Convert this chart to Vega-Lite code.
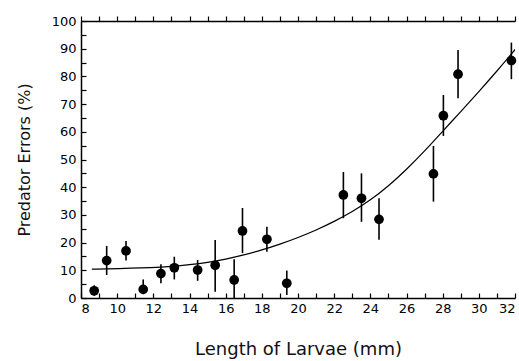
{
  "$schema": "https://vega.github.io/schema/vega-lite/v6.json",
  "width": 434,
  "height": 277,
  "autosize": {"type": "none"},
  "padding": {"left": 81, "top": 21, "right": 4, "bottom": 63},
  "background": "white",
  "config": {
    "view": {"stroke": null},
    "axis": {"labelFont": "DejaVu Sans", "titleFont": "DejaVu Sans", "labelColor": "black", "titleColor": "#111", "domainColor": "black", "tickColor": "black", "grid": false, "titleFontWeight": "normal", "labelOverlap": false}
  },
  "datasets": {
    "pts": [
      {"len": 8.73, "err": 2.6, "lo": 0.8, "hi": 4.6},
      {"len": 9.42, "err": 13.5, "lo": 8.3, "hi": 18.8},
      {"len": 10.49, "err": 17.0, "lo": 13.5, "hi": 20.6},
      {"len": 11.44, "err": 3.1, "lo": 1.4, "hi": 6.7},
      {"len": 12.42, "err": 8.8, "lo": 5.3, "hi": 12.2},
      {"len": 13.16, "err": 10.9, "lo": 6.7, "hi": 14.9},
      {"len": 14.45, "err": 10.1, "lo": 6.2, "hi": 13.7},
      {"len": 15.42, "err": 11.8, "lo": 2.3, "hi": 20.9},
      {"len": 16.47, "err": 6.5, "lo": 0, "hi": 14.0},
      {"len": 16.93, "err": 24.2, "lo": 16.2, "hi": 32.5},
      {"len": 18.28, "err": 21.2, "lo": 16.7, "hi": 25.7},
      {"len": 19.38, "err": 5.3, "lo": 1.1, "hi": 9.9},
      {"len": 22.51, "err": 37.2, "lo": 28.8, "hi": 45.5},
      {"len": 23.51, "err": 36.0, "lo": 27.5, "hi": 45.0},
      {"len": 24.48, "err": 28.4, "lo": 21.0, "hi": 36.0},
      {"len": 27.49, "err": 44.8, "lo": 34.8, "hi": 54.9},
      {"len": 28.04, "err": 65.8, "lo": 58.5, "hi": 73.3},
      {"len": 28.85, "err": 80.8, "lo": 72.1, "hi": 89.5},
      {"len": 31.8, "err": 85.7, "lo": 79.0, "hi": 92.2}
    ],
    "curve": [
      {"len": 8.6, "fit": 10.4},
      {"len": 10, "fit": 10.6},
      {"len": 12, "fit": 11.0},
      {"len": 13, "fit": 11.4},
      {"len": 14, "fit": 12.0},
      {"len": 15, "fit": 12.8},
      {"len": 16, "fit": 14.0},
      {"len": 17, "fit": 15.5},
      {"len": 18, "fit": 17.3},
      {"len": 19, "fit": 19.4},
      {"len": 20, "fit": 21.8},
      {"len": 21, "fit": 24.5},
      {"len": 22, "fit": 27.6},
      {"len": 23, "fit": 31.1},
      {"len": 24, "fit": 35.3},
      {"len": 25, "fit": 40.4},
      {"len": 26, "fit": 46.4},
      {"len": 27, "fit": 53.0},
      {"len": 28, "fit": 60.2},
      {"len": 29, "fit": 67.3},
      {"len": 30, "fit": 74.5},
      {"len": 31, "fit": 81.9},
      {"len": 32, "fit": 89.6},
      {"len": 32.25, "fit": 91.6}
    ]
  },
  "layer": [
    {
      "data": {"name": "pts"},
      "mark": {"type": "rule", "color": "black", "strokeWidth": 1.6},
      "encoding": {
        "x": {"field": "len", "type": "quantitative", "scale": {"domain": [8, 32], "nice": false},
          "axis": {"orient": "bottom", "values": [8,9,10,11,12,13,14,15,16,17,18,19,20,21,22,23,24,25,26,27,28,29,30,31,32],
            "labelExpr": "datum.value % 2 == 0 ? datum.label : ''", "tickSize": -5, "labelPadding": 9, "labelFontSize": 13,
            "title": "Length of Larvae (mm)", "titleFontSize": 18, "titlePadding": 25, "domainWidth": 1.5, "tickWidth": 1.2}},
        "y": {"field": "lo", "type": "quantitative", "scale": {"domain": [0, 100], "nice": false},
          "axis": {"values": [0,5,10,15,20,25,30,35,40,45,50,55,60,65,70,75,80,85,90,95,100],
            "labelExpr": "datum.value % 10 == 0 ? datum.label : ''", "tickSize": -5, "labelPadding": 10, "labelFontSize": 13,
            "title": "Predator Errors (%)", "titleFontSize": 16, "titlePadding": 19, "domainWidth": 1.5, "tickWidth": 1.2}},
        "y2": {"field": "hi"}
      }
    },
    {
      "data": {"name": "pts"},
      "mark": {"type": "point", "filled": true, "color": "black", "size": 95, "opacity": 1},
      "encoding": {
        "x": {"field": "len", "type": "quantitative", "axis": {"orient": "top", "values": [8,9,10,11,12,13,14,15,16,17,18,19,20,21,22,23,24,25,26,27,28,29,30,31,32], "labels": false, "title": null, "tickSize": 5, "domainWidth": 1.5, "tickWidth": 1.2}},
        "y": {"field": "err", "type": "quantitative",
          "axis": {"values": [0,5,10,15,20,25,30,35,40,45,50,55,60,65,70,75,80,85,90,95,100],
            "labelExpr": "datum.value % 10 == 0 ? datum.label : ''", "tickSize": -5, "labelPadding": 10, "labelFontSize": 13,
            "title": "Predator Errors (%)", "titleFontSize": 16, "titlePadding": 19, "domainWidth": 1.5, "tickWidth": 1.2}}
      }
    },
    {
      "data": {"name": "curve"},
      "mark": {"type": "line", "color": "black", "strokeWidth": 1.2, "interpolate": "basis", "clip": true},
      "encoding": {
        "x": {"field": "len", "type": "quantitative", "axis": null},
        "y": {"field": "fit", "type": "quantitative",
          "axis": {"values": [0,5,10,15,20,25,30,35,40,45,50,55,60,65,70,75,80,85,90,95,100],
            "labelExpr": "datum.value % 10 == 0 ? datum.label : ''", "tickSize": -5, "labelPadding": 10, "labelFontSize": 13,
            "title": "Predator Errors (%)", "titleFontSize": 16, "titlePadding": 19, "domainWidth": 1.5, "tickWidth": 1.2}}
      }
    }
  ],
  "resolve": {"axis": {"x": "independent"}}
}
